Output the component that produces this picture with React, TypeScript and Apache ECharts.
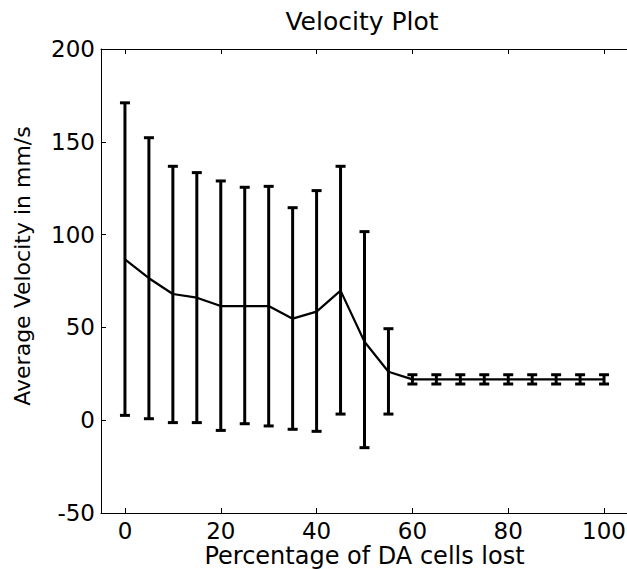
import React, { useEffect, useRef } from "react";
import * as echarts from "echarts";

const titleText = "Velocity Plot";
const xAxisName = "Percentage of DA cells lost";
const yAxisName = "Average Velocity in mm/s";

const xValues = [0, 5, 10, 15, 20, 25, 30, 35, 40, 45, 50, 55, 60, 65, 70, 75, 80, 85, 90, 95, 100];
const meanValues = [86.7, 76.5, 68, 66, 61.5, 61.5, 61.5, 54.7, 58.5, 69.8, 42.3, 26.1, 22, 22, 22, 22, 22, 22, 22, 22, 22];
const lowValues = [2.6, 0.8, -1.3, -1.3, -5.5, -1.9, -3.1, -4.9, -6, 3.3, -14.8, 3.3, 19.5, 19.5, 19.5, 19.5, 19.5, 19.5, 19.5, 19.5, 19.5];
const highValues = [171, 152.2, 136.8, 133.4, 128.9, 125.5, 126, 114.5, 123.7, 136.8, 101.6, 49.3, 24.5, 24.5, 24.5, 24.5, 24.5, 24.5, 24.5, 24.5, 24.5];
const xTicks = [0, 20, 40, 60, 80, 100];

const FONT = "DejaVu Sans";

export default function App() {
  const ref = useRef<HTMLDivElement>(null);
  useEffect(() => {
    const chart = echarts.init(ref.current!, null, { renderer: "svg" });
    const errData = xValues.map((x, i) => [x, lowValues[i], highValues[i]]);
    const meanData = xValues.map((x, i) => [x, meanValues[i]]);
    const lineStyle = { color: "#000", width: 1 };
    chart.setOption({
      animation: false,
      backgroundColor: "#fff",
      grid: { left: 101, top: 49, width: 527, height: 464, outerBoundsMode: "none" },
      graphic: [
        {
          type: "text",
          x: 362,
          y: 21,
          style: { text: titleText, font: `25px "${FONT}"`, fill: "#000", align: "center", verticalAlign: "middle" },
        },
        {
          type: "text",
          x: 22,
          y: 266,
          rotation: Math.PI / 2,
          style: { text: yAxisName, font: `22px "${FONT}"`, fill: "#000", align: "center", verticalAlign: "middle" },
        },
      ],
      xAxis: [
        {
          type: "value",
          min: -5,
          max: 105,
          position: "bottom",
          axisLine: { show: true, onZero: false, lineStyle },
          axisTick: { show: true, inside: true, length: 5, customValues: xTicks, lineStyle },
          axisLabel: { customValues: xTicks, color: "#000", fontFamily: FONT, fontSize: 23, margin: 6 },
          splitLine: { show: false },
          name: xAxisName,
          nameLocation: "middle",
          nameGap: 31,
          nameMoveOverlap: false,
          nameTextStyle: { color: "#000", fontFamily: FONT, fontSize: 24, lineHeight: 24 },
        },
        {
          type: "value",
          min: -5,
          max: 105,
          position: "top",
          axisLine: { show: true, onZero: false, lineStyle },
          axisTick: { show: true, inside: true, length: 5, customValues: xTicks, lineStyle },
          axisLabel: { show: false },
          splitLine: { show: false },
        },
      ],
      yAxis: [
        {
          type: "value",
          min: -50,
          max: 200,
          interval: 50,
          position: "left",
          axisLine: { show: true, onZero: false, lineStyle },
          axisTick: { show: true, inside: true, length: 5, lineStyle },
          axisLabel: { color: "#000", fontFamily: FONT, fontSize: 23, margin: 6 },
          splitLine: { show: false },
        },
      ],
      series: [
        {
          type: "line",
          xAxisIndex: 0,
          yAxisIndex: 0,
          data: meanData,
          symbol: "none",
          lineStyle: { color: "#000", width: 2.2 },
          z: 3,
        },
        {
          type: "custom",
          xAxisIndex: 0,
          yAxisIndex: 0,
          data: errData,
          encode: { x: 0, y: [1, 2] },
          z: 4,
          renderItem: (params: any, api: any) => {
            const x = api.value(0);
            const lo = api.value(1);
            const hi = api.value(2);
            const pLo = api.coord([x, lo]);
            const pHi = api.coord([x, hi]);
            const hw = 5;
            const style = { stroke: "#000", lineWidth: 3 };
            return {
              type: "group",
              children: [
                { type: "line", shape: { x1: pLo[0], y1: pLo[1], x2: pHi[0], y2: pHi[1] }, style },
                { type: "line", shape: { x1: pHi[0] - hw, y1: pHi[1], x2: pHi[0] + hw, y2: pHi[1] }, style },
                { type: "line", shape: { x1: pLo[0] - hw, y1: pLo[1], x2: pLo[0] + hw, y2: pLo[1] }, style },
              ],
            };
          },
        },
      ],
    });
    return () => chart.dispose();
  }, []);
  return (
    <div
      ref={ref}
      style={{ position: "absolute", left: 0, top: 0, width: 627, height: 569, background: "#fff" }}
    />
  );
}
